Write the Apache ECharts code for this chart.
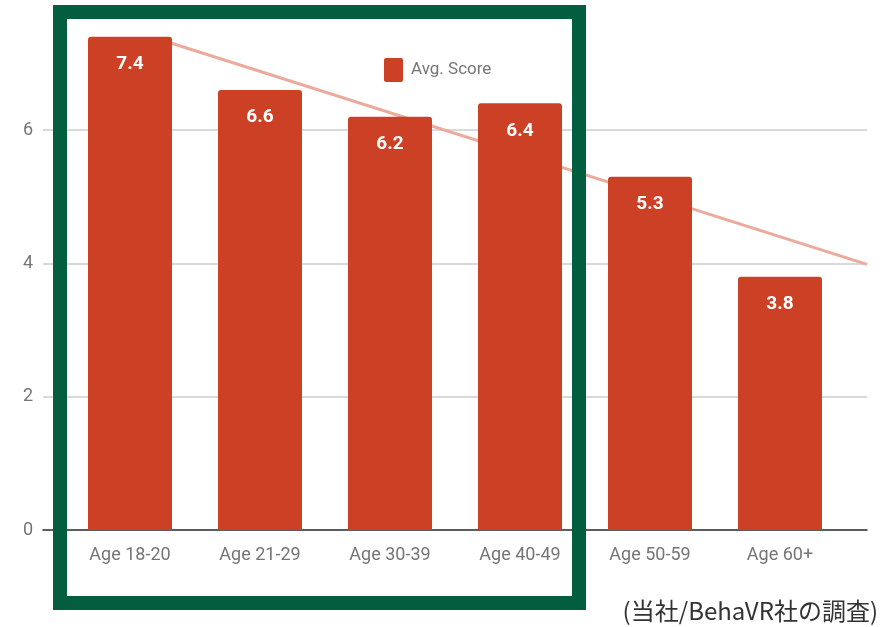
<!DOCTYPE html>
<html><head><meta charset="utf-8">
<script src="https://cdn.jsdelivr.net/npm/echarts@6/dist/echarts.min.js"></script>
<style>html,body{margin:0;padding:0;background:#fff}#c{width:896px;height:627px}</style>
</head><body><div id="c"></div>
<script>
var categories = ['Age 18-20','Age 21-29','Age 30-39','Age 40-49','Age 50-59','Age 60+'];
var scores = [7.4, 6.6, 6.2, 6.4, 5.3, 3.8];
var seriesName = 'Avg. Score';
var sourceNote = '(当社/BehaVR社の調査)';

// linear trendline (least squares) from the data
var n = scores.length, mx = (n - 1) / 2, my = scores.reduce(function(a,b){return a+b;},0) / n;
var sxy = 0, sxx = 0;
scores.forEach(function(v,i){ sxy += (i-mx)*(v-my); sxx += (i-mx)*(i-mx); });
var slope = sxy / sxx, icpt = my - slope * mx;
var xMin = -0.5 - 22/130, xMax = n - 0.5 + 22/130;
var trendStart = 0.32;
var trend = [[trendStart, icpt + slope * trendStart], [xMax, icpt + slope * xMax]];

var yMax = 7.95, gridBottom = 97;

var chart = echarts.init(document.getElementById('c'));
var gray = '#757575';
var g = '#cccccc';
chart.setOption({
  animation: false,
  textStyle: {fontFamily: 'Roboto'},
  legend: {
    data: [seriesName], left: 379, top: 53, itemWidth: 19, itemHeight: 24, itemGap: 10,
    icon: 'path://M2,0H17Q19,0 19,2V22Q19,24 17,24H2Q0,24 0,22V2Q0,0 2,0Z',
    zlevel: 1,
    textStyle: {color: gray, fontSize: 17, fontFamily: 'Roboto', padding: [0,0,0,3]}
  },
  grid: [
    {left: 65, right: 51, top: 0, bottom: gridBottom},
    {left: 43, right: 29, top: 0, bottom: gridBottom}
  ],
  xAxis: [
    {type: 'category', gridIndex: 0, data: categories,
     axisLine: {show: false}, axisTick: {show: false},
     axisLabel: {color: gray, fontSize: 18, margin: 16, fontFamily: 'Roboto'}},
    {type: 'value', gridIndex: 1, min: xMin, max: xMax,
     axisLine: {show: true, onZero: false, lineStyle: {color: '#333', width: 1.5}},
     axisTick: {show: false}, axisLabel: {show: false}, splitLine: {show: false}}
  ],
  yAxis: [
    {type: 'value', gridIndex: 0, min: 0, max: yMax, interval: 2, show: false, splitLine: {show: false}},
    {type: 'value', gridIndex: 1, min: 0, max: yMax, interval: 2,
     axisLine: {show: false}, axisTick: {show: false},
     axisLabel: {color: gray, fontSize: 18, margin: 10, fontFamily: 'Roboto',
                 formatter: function(v){ return v > 7 ? '' : String(v); }},
     splitLine: {lineStyle: {color: [g, g, g, g, 'rgba(0,0,0,0)'], width: 1.5}}}
  ],
  series: [
    {name: 'trend', type: 'line', xAxisIndex: 1, yAxisIndex: 1, data: trend, zlevel: 0, z: 1,
     symbol: 'none', silent: true, lineStyle: {color: '#ecaa9d', width: 3}},
    {name: seriesName, type: 'bar', xAxisIndex: 0, yAxisIndex: 0, data: scores, zlevel: 1, z: 3,
     barWidth: 84,
     itemStyle: {color: '#cc4125', borderRadius: [3,3,0,0]},
     label: {show: true, position: 'insideTop', distance: 18, color: '#fff',
             fontSize: 19, fontWeight: 'bold', fontFamily: 'Roboto',
             formatter: function(p){ return p.value.toFixed(1); }}}
  ],
  graphic: [
    {type: 'rect', zlevel: 2, z: 100, shape: {x: 60, y: 12, width: 519, height: 591},
     style: {fill: null, stroke: '#035e3f', lineWidth: 14}},
    {type: 'text', zlevel: 2, z: 100, right: 18, top: 599,
     style: {text: sourceNote, fill: '#333', fontSize: 24, fontFamily: 'Noto Sans CJK JP'}}
  ]
});
</script></body></html>
